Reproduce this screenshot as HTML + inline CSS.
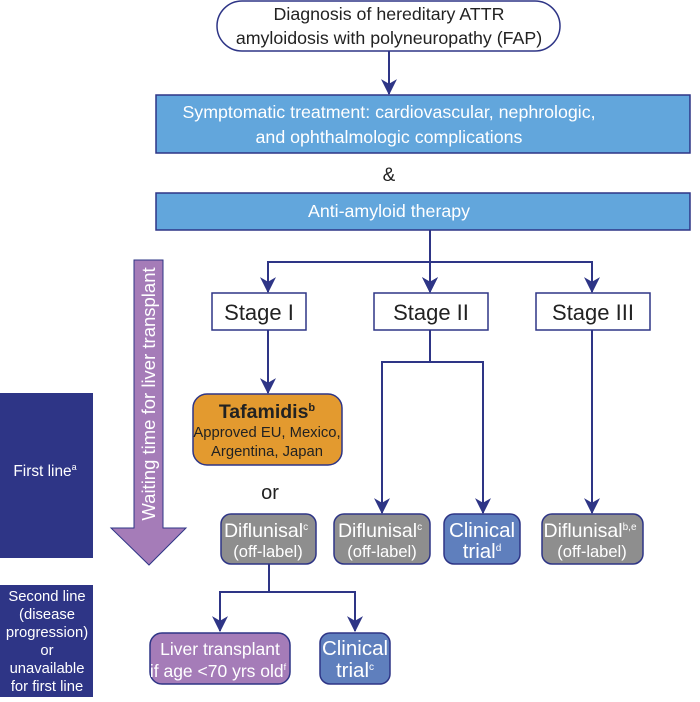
<!DOCTYPE html>
<html><head><meta charset="utf-8"><style>
body{margin:0;background:#fff;}
svg text{font-family:"Liberation Sans",sans-serif;}
</style></head><body>
<svg width="700" height="697" viewBox="0 0 700 697" xmlns="http://www.w3.org/2000/svg">
<defs>
<marker id="b" viewBox="0 0 14 14" markerWidth="16" markerHeight="16" refX="13" refY="7" orient="auto" markerUnits="userSpaceOnUse"><path d="M0,0 L14,7 L0,14 L4,7 Z" fill="#2e3586"/></marker></defs>
<g stroke="#2e3586" stroke-width="2" fill="none">
<line x1="389" y1="51" x2="389" y2="94" marker-end="url(#b)"/>
<line x1="430" y1="230" x2="430" y2="292" marker-end="url(#b)"/>
<polyline points="268,292 268,262 592,262 592,292" />
<line x1="268" y1="275" x2="268" y2="292" marker-end="url(#b)"/>
<line x1="592" y1="275" x2="592" y2="292" marker-end="url(#b)"/>
<line x1="430" y1="275" x2="430" y2="292" marker-end="url(#b)"/>
<line x1="268" y1="330" x2="268" y2="393" marker-end="url(#b)"/>
<line x1="430" y1="330" x2="430" y2="362"/>
<polyline points="382,512 382,362 483,362 483,512"/>
<line x1="382" y1="495" x2="382" y2="513" marker-end="url(#b)"/>
<line x1="483" y1="495" x2="483" y2="513" marker-end="url(#b)"/>
<line x1="592" y1="330" x2="592" y2="513" marker-end="url(#b)"/>
<line x1="269" y1="564" x2="269" y2="592"/>
<polyline points="220,630 220,592 355,592 355,630"/>
<line x1="220" y1="612" x2="220" y2="631" marker-end="url(#b)"/>
<line x1="355" y1="612" x2="355" y2="631" marker-end="url(#b)"/>
</g>
<rect x="217" y="1" width="343" height="50" rx="25" fill="#fff" stroke="#2e3586" stroke-width="1.5"/>
<text x="389" y="20" font-size="17.8" text-anchor="middle" fill="#222">Diagnosis of hereditary ATTR</text>
<text x="389" y="44" font-size="17.8" text-anchor="middle" fill="#222">amyloidosis with polyneuropathy (FAP)</text>
<rect x="156" y="95" width="534" height="58" fill="#62a6dc" stroke="#2e3586" stroke-width="1.5"/>
<text x="389" y="118" font-size="17.8" text-anchor="middle" fill="#fff">Symptomatic treatment: cardiovascular, nephrologic,</text>
<text x="389" y="143" font-size="17.8" text-anchor="middle" fill="#fff">and ophthalmologic complications</text>
<text x="389" y="181" font-size="19" text-anchor="middle" fill="#222">&amp;</text>
<rect x="156" y="193" width="534" height="37" fill="#62a6dc" stroke="#2e3586" stroke-width="1.5"/>
<text x="389" y="217" font-size="17.8" text-anchor="middle" fill="#fff">Anti-amyloid therapy</text>
<g fill="#fff" stroke="#2e3586" stroke-width="1.5">
<rect x="212" y="293" width="94" height="37"/><rect x="374" y="293" width="114" height="37"/><rect x="536" y="293" width="114" height="37"/></g>
<g font-size="22" text-anchor="middle" fill="#222"><text x="259" y="320">Stage I</text><text x="431" y="320">Stage II</text><text x="593" y="320">Stage III</text></g>
<polygon points="134,260 163,260 163,528 186,528 149,565 111,528 134,528" fill="#a57cb8" stroke="#2e3586" stroke-width="1"/>
<text transform="translate(155,394) rotate(-90)" font-size="18.5" text-anchor="middle" fill="#fff">Waiting time for liver transplant</text>
<rect x="0" y="393" width="93" height="165" fill="#2e3586"/>
<text x="45" y="476" font-size="15.4" text-anchor="middle" fill="#fff">First line<tspan font-size="9" dy="-6">a</tspan></text>
<rect x="0" y="585" width="93" height="112" fill="#2e3586"/>
<g font-size="14.8" text-anchor="middle" fill="#fff"><text x="47" y="601">Second line</text><text x="47" y="619">(disease</text><text x="47" y="637">progression)</text><text x="47" y="655">or</text><text x="47" y="673">unavailable</text><text x="47" y="691">for first line</text></g>
<rect x="193" y="394" width="149" height="71" rx="14" fill="#e39a2f" stroke="#2e3586" stroke-width="1.5"/>
<text x="267" y="418" font-size="19.5" font-weight="bold" text-anchor="middle" fill="#222">Tafamidis<tspan font-size="11" dy="-7">b</tspan></text>
<text x="267" y="437" font-size="14.8" text-anchor="middle" fill="#222">Approved EU, Mexico,</text>
<text x="267" y="456" font-size="14.8" text-anchor="middle" fill="#222">Argentina, Japan</text>
<text x="270" y="499" font-size="20" text-anchor="middle" fill="#222">or</text>
<g stroke="#2e3586" stroke-width="1.5">
<rect x="221" y="514" width="95" height="50" rx="10" fill="#8e8e8e"/>
<rect x="334" y="514" width="96" height="50" rx="10" fill="#8e8e8e"/>
<rect x="444" y="514" width="76" height="50" rx="10" fill="#5f7fbd"/>
<rect x="542" y="514" width="101" height="50" rx="10" fill="#8e8e8e"/>
<rect x="150" y="633" width="140" height="51" rx="12" fill="#a57cb8"/>
<rect x="320" y="633" width="70" height="51" rx="10" fill="#5f7fbd"/></g>
<g text-anchor="middle" fill="#fff">
<text x="266" y="537" font-size="19.5">Diflunisal<tspan font-size="10" dy="-7">c</tspan></text><text x="268" y="557" font-size="16.5">(off-label)</text>
<text x="380" y="537" font-size="19.5">Diflunisal<tspan font-size="10" dy="-7">c</tspan></text><text x="382" y="557" font-size="16.5">(off-label)</text>
<text x="482" y="537" font-size="20.5">Clinical</text><text x="482" y="558" font-size="20.5">trial<tspan font-size="10" dy="-7">d</tspan></text>
<text x="590" y="537" font-size="19.5">Diflunisal<tspan font-size="10" dy="-7">b,e</tspan></text><text x="592" y="557" font-size="16.5">(off-label)</text>
<text x="220" y="655" font-size="17.5">Liver transplant</text><text x="218" y="677" font-size="17.5">if age &lt;70 yrs old<tspan font-size="9" dy="-7">f</tspan></text>
<text x="355" y="655" font-size="20.5">Clinical</text><text x="355" y="677" font-size="20.5">trial<tspan font-size="10" dy="-7">c</tspan></text>
</g>
</svg>
</body></html>
